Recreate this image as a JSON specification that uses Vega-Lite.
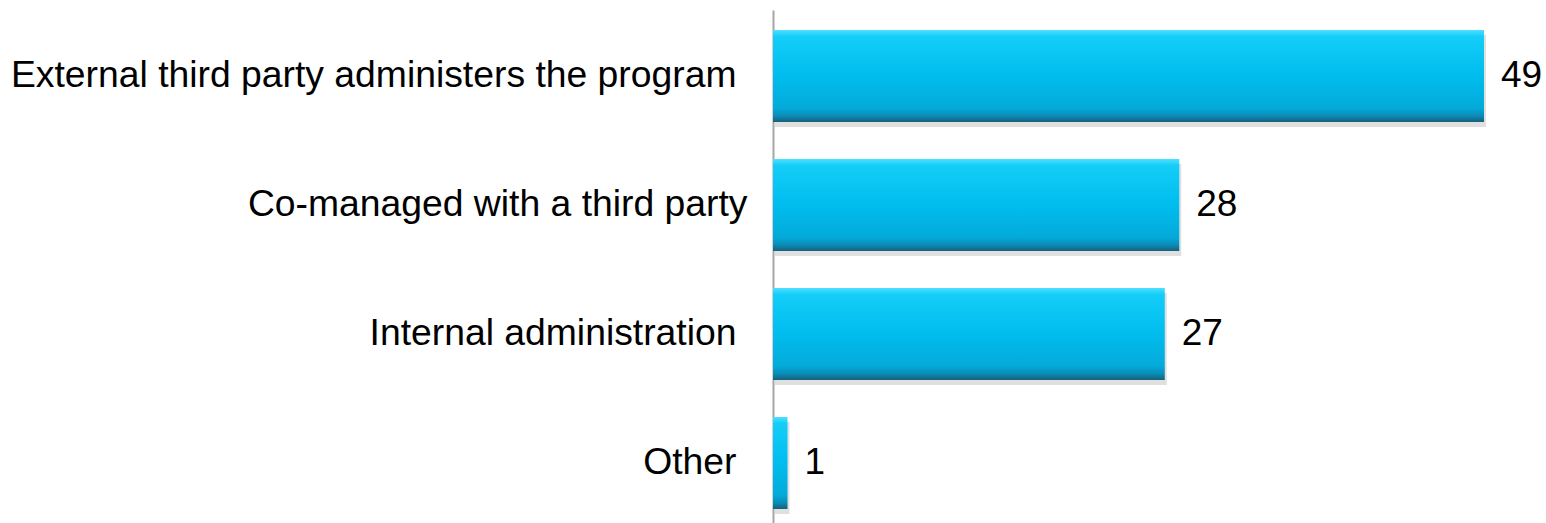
{
  "$schema": "https://vega.github.io/schema/vega-lite/v6.json",
  "width": 711,
  "height": 519,
  "autosize": "none",
  "padding": {"left": 773, "top": 10, "right": 62, "bottom": 0},
  "background": "white",
  "config": {"view": {"stroke": null}, "font": "Liberation Sans"},
  "data": {
    "values": [
      {"category": "External third party administers the program", "value": 49},
      {"category": "Co-managed with a third party", "value": 28},
      {"category": "Internal administration", "value": 27},
      {"category": "Other", "value": 1}
    ]
  },
  "encoding": {
    "y": {
      "field": "category",
      "type": "nominal",
      "sort": null,
      "scale": {"paddingInner": 0.287, "paddingOuter": 0.155},
      "axis": {
        "title": null,
        "ticks": false,
        "labelFontSize": 37.3,
        "labelColor": "#000000",
        "labelPadding": {"condition": {"test": "datum.value == 'Co-managed with a third party'", "value": 26}, "value": 37},
        "labelLimit": 800,
        "domainColor": "#a6a6a6",
        "domainWidth": 2,
        "grid": false
      }
    },
    "x": {
      "field": "value",
      "type": "quantitative",
      "scale": {"domain": [0, 49]},
      "axis": null
    }
  },
  "layer": [
    {
      "mark": {"type": "bar", "color": "#000000", "opacity": 0.12, "yOffset": 5, "xOffset": 2}
    },
    {
      "mark": {
        "type": "bar",
        "color": {
          "gradient": "linear",
          "x1": 0, "y1": 0, "x2": 0, "y2": 1,
          "stops": [
            {"offset": 0, "color": "#4fe0ff"},
            {"offset": 0.07, "color": "#14cdf8"},
            {"offset": 0.5, "color": "#00bdee"},
            {"offset": 0.85, "color": "#04aad9"},
            {"offset": 0.93, "color": "#0a8db8"},
            {"offset": 1, "color": "#17607a"}
          ]
        }
      }
    },
    {
      "mark": {"type": "text", "align": "left", "baseline": "middle", "dx": 17, "fontSize": 37, "color": "#000000"},
      "encoding": {"text": {"field": "value", "type": "quantitative"}}
    }
  ]
}
